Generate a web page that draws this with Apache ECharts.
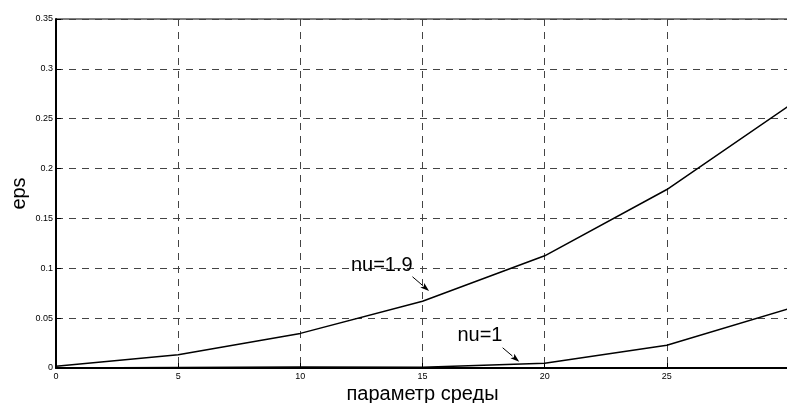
<!DOCTYPE html>
<html>
<head>
<meta charset="utf-8">
<script src="https://cdn.jsdelivr.net/npm/echarts@6/dist/echarts.min.js"></script>
<style>
  html, body { margin: 0; padding: 0; background: #fff; }
  #chart { width: 787px; height: 403px; }
</style>
</head>
<body>
<div id="chart"></div>
<script>
// Environment parameter values (x axis)
const xValues = [0, 5, 10, 15, 20, 25, 30];
// eps for nu = 1.9
const epsNu19 = [0.0018, 0.0133, 0.0347, 0.0669, 0.1125, 0.179, 0.263];
// eps for nu = 1
const epsNu1 = [0.0000, 0.0005, 0.0010, 0.0008, 0.0048, 0.0229, 0.0595];

// Curve labels with their arrows, in data coordinates
const curveLabels = [
  { text: 'nu=1.9', at: [12.07, 0.103], from: [14.59, 0.0915], to: [15.27, 0.0772] },
  { text: 'nu=1',   at: [16.43, 0.0322], from: [18.28, 0.0203], to: [18.96, 0.0062] }
];

const FONT = 'Liberation Sans, Arial, sans-serif';
const chart = echarts.init(document.getElementById('chart'), null, { renderer: 'canvas' });

const gridLine = { show: true, lineStyle: { color: '#444', width: 1, type: [7, 6] } };

chart.setOption({
  animation: false,
  backgroundColor: '#fff',
  grid: {
    left: 56, right: -2, top: 19, bottom: 35,
    containLabel: false, outerBoundsMode: 'none',
    show: true, borderColor: '#000', borderWidth: 1, backgroundColor: 'transparent'
  },
  xAxis: {
    type: 'value', min: 0, max: 30, interval: 5,
    name: 'параметр среды', nameLocation: 'middle', nameGap: 16, nameMoveOverlap: false,
    nameTextStyle: { fontFamily: FONT, fontSize: 20, color: '#000' },
    axisLine: { show: true, onZero: false, lineStyle: { color: '#000', width: 2 } },
    axisTick: { show: true, inside: true, length: 5, lineStyle: { color: '#000' } },
    axisLabel: {
      fontFamily: FONT, fontSize: 9, color: '#000', margin: 4,
      formatter: v => (v === 30 ? '' : String(v))
    },
    splitLine: gridLine
  },
  yAxis: {
    type: 'value', min: 0, max: 0.35, interval: 0.05,
    name: 'eps', nameLocation: 'middle', nameGap: 27, nameRotate: 90, nameMoveOverlap: false,
    nameTextStyle: { fontFamily: FONT, fontSize: 20, color: '#000' },
    axisLine: { show: true, lineStyle: { color: '#000', width: 2 } },
    axisTick: { show: true, inside: true, length: 5, lineStyle: { color: '#000' } },
    axisLabel: {
      fontFamily: FONT, fontSize: 9, color: '#000', margin: 3,
      formatter: v => (v === 0 ? '0' : String(+v.toFixed(2)))
    },
    splitLine: gridLine
  },
  series: [
    {
      name: 'nu=1.9', type: 'line', showSymbol: false, symbol: 'none',
      data: xValues.map((x, i) => [x, epsNu19[i]]),
      lineStyle: { color: '#000', width: 1.5 }, z: 5
    },
    {
      name: 'nu=1', type: 'line', showSymbol: false, symbol: 'none',
      data: xValues.map((x, i) => [x, epsNu1[i]]),
      lineStyle: { color: '#000', width: 1.5 }, z: 5
    }
  ]
});

// Curve labels and arrows placed through the grid's coordinate system
const graphics = [];
curveLabels.forEach(c => {
  const p = chart.convertToPixel({ gridIndex: 0 }, c.at);
  const a = chart.convertToPixel({ gridIndex: 0 }, c.from);
  const b = chart.convertToPixel({ gridIndex: 0 }, c.to);
  graphics.push({
    type: 'text', x: p[0], y: p[1], z: 10,
    style: { text: c.text, font: '20px ' + FONT, fill: '#000', textAlign: 'left', textVerticalAlign: 'middle' }
  });
  const dx = b[0] - a[0], dy = b[1] - a[1];
  const len = Math.hypot(dx, dy);
  const ux = dx / len, uy = dy / len;
  const headLen = 9, halfW = 3;
  const bx = b[0] - ux * headLen, by = b[1] - uy * headLen;
  graphics.push({
    type: 'line', z: 10,
    shape: { x1: a[0], y1: a[1], x2: bx, y2: by },
    style: { stroke: '#000', lineWidth: 1 }
  });
  graphics.push({
    type: 'polygon', z: 10,
    shape: { points: [
      [b[0], b[1]],
      [bx - uy * halfW, by + ux * halfW],
      [bx + ux * 2, by + uy * 2],
      [bx + uy * halfW, by - ux * halfW]
    ] },
    style: { fill: '#000' }
  });
});
chart.setOption({ graphic: graphics });
</script>
</body>
</html>
